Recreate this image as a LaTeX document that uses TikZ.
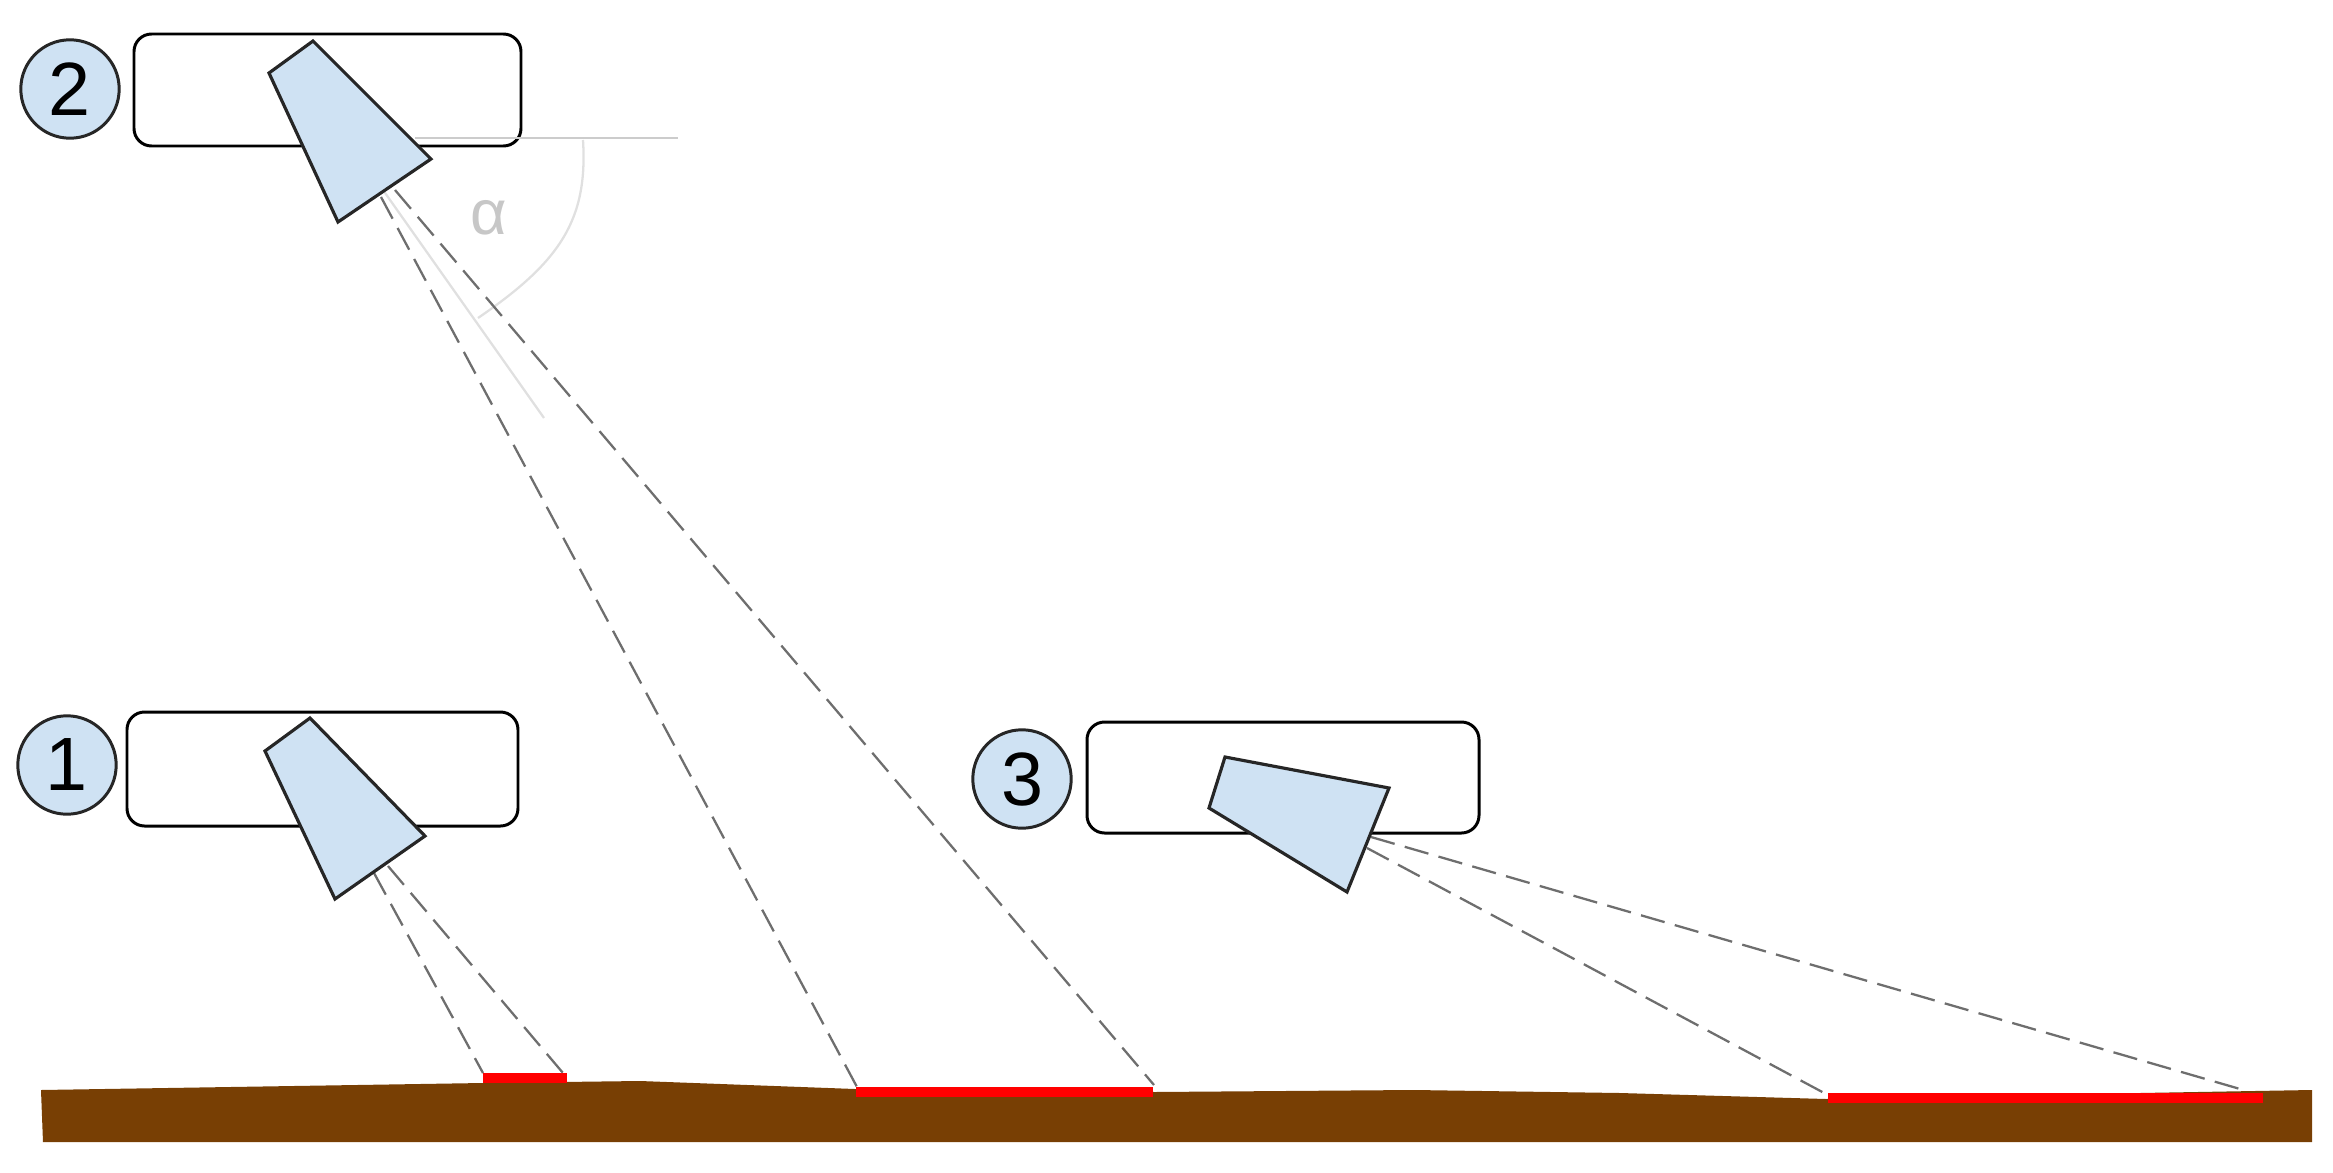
\documentclass[tikz,border=0pt]{standalone}
\usepackage{fontspec}
\setmainfont{Liberation Sans}
\definecolor{ground}{HTML}{783F04}
\definecolor{sky}{HTML}{CFE2F3}
\definecolor{beam}{HTML}{6E6E6E}
\tikzset{platform/.style={draw=black, line width=1.7pt, rounded corners=10pt, fill=white},
camera/.style={draw=black!85, line width=1.8pt, fill=sky},
badge/.style={circle, draw=black!85, line width=1.7pt, fill=sky, minimum size=56pt, inner sep=0pt, font=\fontsize{43}{43}\selectfont},
beamline/.style={beam, line width=1.3pt, dash pattern=on 14pt off 6pt},
spot/.style={red, fill=red},
angleline/.style={black!20, line width=1.6pt}}

\begin{document}
\begin{tikzpicture}[x=0.02cm,y=-0.02cm]
\useasboundingbox (0,0) rectangle (2333,1173);

% ground
\fill[ground] (41,1090) -- (483,1083) -- (640,1081) -- (855,1089) -- (1155,1092) -- (1414,1090)
  -- (1620,1093) -- (1826,1099) -- (2140,1093) -- (2312,1090) -- (2312,1142) -- (43,1142) -- cycle;

% footprints
\fill[spot] (483,1073) rectangle (567,1083);
\fill[spot] (856,1087) rectangle (1153,1097);
\fill[spot] (1828,1093) rectangle (2263,1103);

% platforms
\draw[platform] (134,34) rectangle (521,146);
\draw[platform] (127,712) rectangle (518,826);
\draw[platform] (1087,722) rectangle (1479,833);

% numbers
\foreach \n/\x/\y in {1/67/765,2/70/89,3/1022/779}
     \node (badge\n) [badge] at (\x,\y) {\n};

% angle
\draw[angleline] (415,138) -- (678,138);
\draw[black!12, line width=1.3pt] (383,190) -- (544,418);
\draw[black!12, line width=1.3pt] (583,140) .. controls (588,220) and (560,262) .. (478,318);
\node (alpha) [text=black!22, font=\fontsize{36}{36}\selectfont] at (489,218) {α};

% beams
\coordinate (spot1a) at (483,1073);
\coordinate (spot1b) at (563,1073);
\coordinate (spot2a) at (857,1087);
\coordinate (spot2b) at (1154,1085);
\coordinate (spot3a) at (1826,1094);
\coordinate (spot3b) at (2247,1091);
\draw[beamline] (374,873) -- (spot1a);
\draw[beamline] (388,866) -- (spot1b);
\draw[beamline] (381,197) -- (spot2a);
\draw[beamline] (395,190) -- (spot2b);
\draw[beamline] (1367,848) -- (spot3a);
\draw[beamline] (1371,837) -- (spot3b);

% cameras
\draw[camera] (310,718) -- (265,751) -- (335,899) -- (425,836) -- cycle;
\draw[camera] (313,41) -- (269,73) -- (338,222) -- (431,159) -- cycle;
\draw[camera] (1225,757) -- (1209,808) -- (1347,892) -- (1389,788) -- cycle;

\end{tikzpicture}
\end{document}
